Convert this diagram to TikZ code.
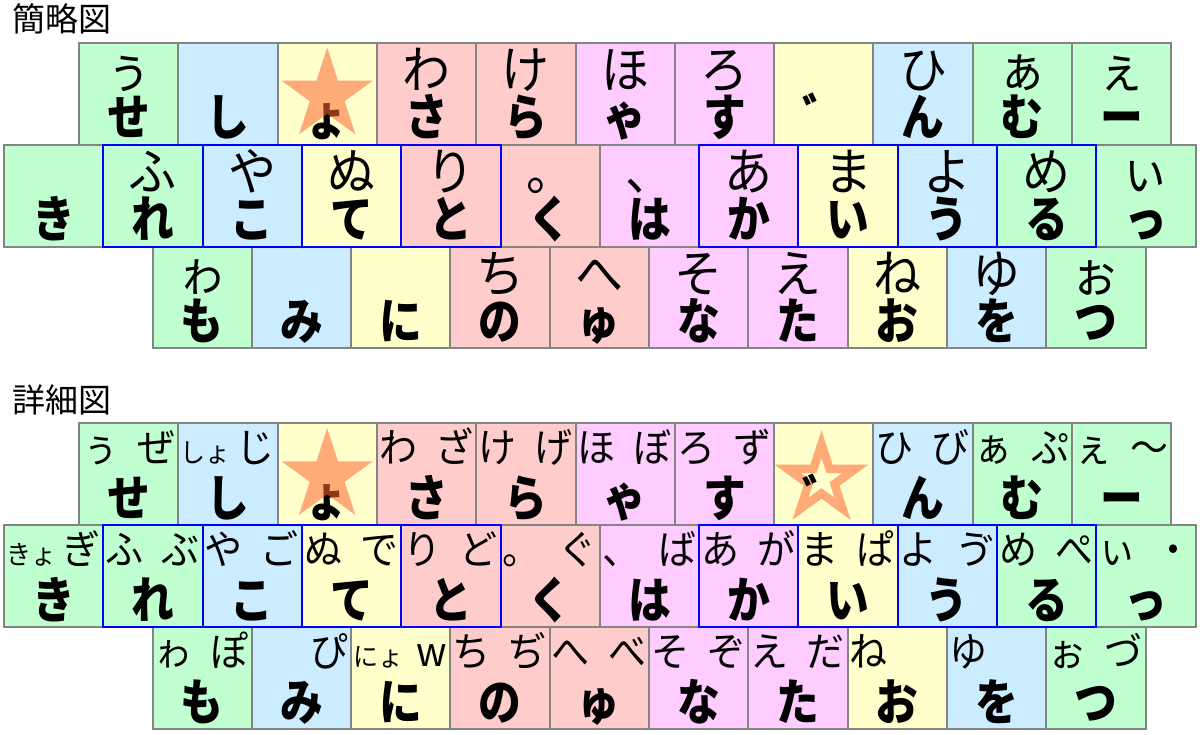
\documentclass[tikz,border=0pt]{standalone}
\usepackage{fontspec}
\newfontfamily\jp{Noto Sans CJK JP}
\usetikzlibrary{calc}
\definecolor{kg}{RGB}{192,255,208}
\definecolor{kb}{RGB}{204,236,255}
\definecolor{ky}{RGB}{255,255,204}
\definecolor{kr}{RGB}{255,204,204}
\definecolor{kp}{RGB}{255,204,255}
\definecolor{kgray}{RGB}{132,132,132}
\definecolor{starc}{RGB}{255,102,51}
\tikzset{
 keycell/.style={draw=kgray, line width=2pt, minimum width=99.3pt, minimum height=101.9pt, inner sep=0pt, outer sep=0pt},
 homebox/.style={draw=blue, line width=2pt},
 toptxt/.style={font=\jp\fontsize{48}{48}\selectfont, anchor=base, inner sep=0pt},
 lefttxt/.style={font=\jp\fontsize{38}{38}\selectfont, anchor=base west, inner sep=0pt},
 righttxt/.style={font=\jp\fontsize{38}{38}\selectfont, anchor=base east, inner sep=0pt},
 maintxt/.style={font=\jp\bfseries\fontsize{46}{46}\selectfont, anchor=base, inner sep=0pt},
 titletxt/.style={font=\jp\fontsize{33}{33}\selectfont, anchor=base west, inner sep=0pt},
 starfill/.style={fill=starc, fill opacity=0.55},
}
\newcommand\sm[1]{{\fontsize{25}{25}\selectfont #1}}
\newcommand\tall[1]{\scalebox{1}[1.06]{#1}}
\newcommand\mainsc[1]{\scalebox{0.93}[1.08]{#1}}
% section 1 key: name, xstart, col, ytop, fill, top, main
\newcommand\ka[7]{%
  \node[keycell, fill=#5] (#1) at (#2+#3*99.3+49.65, #4+50.95) {};
  \node[toptxt] (#1t) at ($(#1.north west)+(49.65,45.5)$) {\tall{#6}};
  \node[maintxt] (#1m) at ($(#1.north west)+(49.65,93)$) {\mainsc{#7}};
}
% section 2 key: name, xstart, col, ytop, fill, left, right, main
\newcommand\kb[8]{%
  \node[keycell, fill=#5] (#1) at (#2+#3*99.3+49.65, #4+50.95) {};
  \node[lefttxt] (#1l) at ($(#1.north west)+(2,39.5)$) {\tall{#6}};
  \node[righttxt] (#1r) at ($(#1.north west)+(96.5,39.5)$) {\tall{#7}};
  \node[maintxt] (#1m) at ($(#1.north west)+(49.65,93)$) {\mainsc{#8}};
}
\begin{document}
\begin{tikzpicture}[x=1pt,y=-1pt]
\useasboundingbox (0,0) rectangle (1200,734);
\fill[white] (0,0) rectangle (1200,734);
\node[titletxt] (t1) at (12,31) {簡略図};
\node[titletxt] (t2) at (12,412) {詳細図};
% ===== section 1 =====
\ka{a1}{79}{0}{42.7}{kg}{ぅ}{せ}
\ka{a2}{79}{1}{42.7}{kb}{}{し}
\ka{a3}{79}{2}{42.7}{ky}{}{ょ}
\ka{a4}{79}{3}{42.7}{kr}{わ}{さ}
\ka{a5}{79}{4}{42.7}{kr}{け}{ら}
\ka{a6}{79}{5}{42.7}{kp}{ほ}{ゃ}
\ka{a7}{79}{6}{42.7}{kp}{ろ}{す}
\ka{a8}{79}{7}{42.7}{ky}{}{゛}
\ka{a9}{79}{8}{42.7}{kb}{ひ}{ん}
\ka{a10}{79}{9}{42.7}{kg}{ぁ}{む}
\ka{a11}{79}{10}{42.7}{kg}{ぇ}{ー}
\ka{b1}{4}{0}{144.6}{kg}{}{き}
\ka{b2}{4}{1}{144.6}{kg}{ふ}{れ}
\ka{b3}{4}{2}{144.6}{kb}{や}{こ}
\ka{b4}{4}{3}{144.6}{ky}{ぬ}{て}
\ka{b5}{4}{4}{144.6}{kr}{り}{と}
\ka{b6}{4}{5}{144.6}{kr}{。}{く}
\ka{b7}{4}{6}{144.6}{kp}{、}{は}
\ka{b8}{4}{7}{144.6}{kp}{あ}{か}
\ka{b9}{4}{8}{144.6}{ky}{ま}{い}
\ka{b10}{4}{9}{144.6}{kb}{よ}{う}
\ka{b11}{4}{10}{144.6}{kg}{め}{る}
\ka{b12}{4}{11}{144.6}{kg}{ぃ}{っ}
\ka{c1}{152.5}{0}{246.5}{kg}{ゎ}{も}
\ka{c2}{152.5}{1}{246.5}{kb}{}{み}
\ka{c3}{152.5}{2}{246.5}{ky}{}{に}
\ka{c4}{152.5}{3}{246.5}{kr}{ち}{の}
\ka{c5}{152.5}{4}{246.5}{kr}{へ}{ゅ}
\ka{c6}{152.5}{5}{246.5}{kp}{そ}{な}
\ka{c7}{152.5}{6}{246.5}{kp}{え}{た}
\ka{c8}{152.5}{7}{246.5}{ky}{ね}{お}
\ka{c9}{152.5}{8}{246.5}{kb}{ゆ}{を}
\ka{c10}{152.5}{9}{246.5}{kg}{ぉ}{つ}
\foreach \k in {b2,b3,b4,b5,b8,b9,b10,b11}
  \draw[homebox] (\k.north west) rectangle (\k.south east);
\fill[starfill, shift={(327.2,95.5)}] (90:48pt) -- (126:18.3pt) -- (162:48pt) -- (198:18.3pt) -- (234:48pt) -- (270:18.3pt) -- (306:48pt) -- (342:18.3pt) -- (18:48pt) -- (54:18.3pt) -- cycle;
% ===== section 2 =====
\kb{d1}{79}{0}{423.3}{kg}{ぅ}{ぜ}{せ}
\kb{d2}{79}{1}{423.3}{kb}{\sm{しょ}}{じ}{し}
\kb{d3}{79}{2}{423.3}{ky}{}{}{ょ}
\kb{d4}{79}{3}{423.3}{kr}{わ}{ざ}{さ}
\kb{d5}{79}{4}{423.3}{kr}{け}{げ}{ら}
\kb{d6}{79}{5}{423.3}{kp}{ほ}{ぼ}{ゃ}
\kb{d7}{79}{6}{423.3}{kp}{ろ}{ず}{す}
\kb{d8}{79}{7}{423.3}{ky}{}{}{}
\fill[starfill, even odd rule, shift={(821.5,479.8)}]
  (90:49.5pt) -- (126:18.9pt) -- (162:49.5pt) -- (198:18.9pt) -- (234:49.5pt) -- (270:18.9pt) -- (306:49.5pt) -- (342:18.9pt) -- (18:49.5pt) -- (54:18.9pt) -- cycle
  (90:22pt) -- (126:8.4pt) -- (162:22pt) -- (198:8.4pt) -- (234:22pt) -- (270:8.4pt) -- (306:22pt) -- (342:8.4pt) -- (18:22pt) -- (54:8.4pt) -- cycle;
\node[maintxt] (d8s) at ($(d8.north west)+(49.65,93)$) {\mainsc{゛}};
\kb{d9}{79}{8}{423.3}{kb}{ひ}{び}{ん}
\kb{d10}{79}{9}{423.3}{kg}{ぁ}{ぷ}{む}
\kb{d11}{79}{10}{423.3}{kg}{ぇ}{～}{ー}
\kb{e1}{4}{0}{525.2}{kg}{\sm{きょ}}{ぎ}{き}
\kb{e2}{4}{1}{525.2}{kg}{ふ}{ぶ}{れ}
\kb{e3}{4}{2}{525.2}{kb}{や}{ご}{こ}
\kb{e4}{4}{3}{525.2}{ky}{ぬ}{で}{て}
\kb{e5}{4}{4}{525.2}{kr}{り}{ど}{と}
\kb{e6}{4}{5}{525.2}{kr}{。}{ぐ}{く}
\kb{e7}{4}{6}{525.2}{kp}{、}{ば}{は}
\kb{e8}{4}{7}{525.2}{kp}{あ}{が}{か}
\kb{e9}{4}{8}{525.2}{ky}{ま}{ぱ}{い}
\kb{e10}{4}{9}{525.2}{kb}{よ}{ゔ}{う}
\kb{e11}{4}{10}{525.2}{kg}{め}{ぺ}{る}
\kb{e12}{4}{11}{525.2}{kg}{ぃ}{・}{っ}
\kb{f1}{152.5}{0}{627.1}{kg}{ゎ}{ぽ}{も}
\kb{f2}{152.5}{1}{627.1}{kb}{}{ぴ}{み}
\kb{f3}{152.5}{2}{627.1}{ky}{\sm{にょ}}{w}{に}
\kb{f4}{152.5}{3}{627.1}{kr}{ち}{ぢ}{の}
\kb{f5}{152.5}{4}{627.1}{kr}{へ}{べ}{ゅ}
\kb{f6}{152.5}{5}{627.1}{kp}{そ}{ぞ}{な}
\kb{f7}{152.5}{6}{627.1}{kp}{え}{だ}{た}
\kb{f8}{152.5}{7}{627.1}{ky}{ね}{}{お}
\kb{f9}{152.5}{8}{627.1}{kb}{ゆ}{}{を}
\kb{f10}{152.5}{9}{627.1}{kg}{ぉ}{づ}{つ}
\foreach \k in {e2,e3,e4,e5,e8,e9,e10,e11}
  \draw[homebox] (\k.north west) rectangle (\k.south east);
\fill[starfill, shift={(327.2,476.1)}] (90:48pt) -- (126:18.3pt) -- (162:48pt) -- (198:18.3pt) -- (234:48pt) -- (270:18.3pt) -- (306:48pt) -- (342:18.3pt) -- (18:48pt) -- (54:18.3pt) -- cycle;
\end{tikzpicture}
\end{document}
